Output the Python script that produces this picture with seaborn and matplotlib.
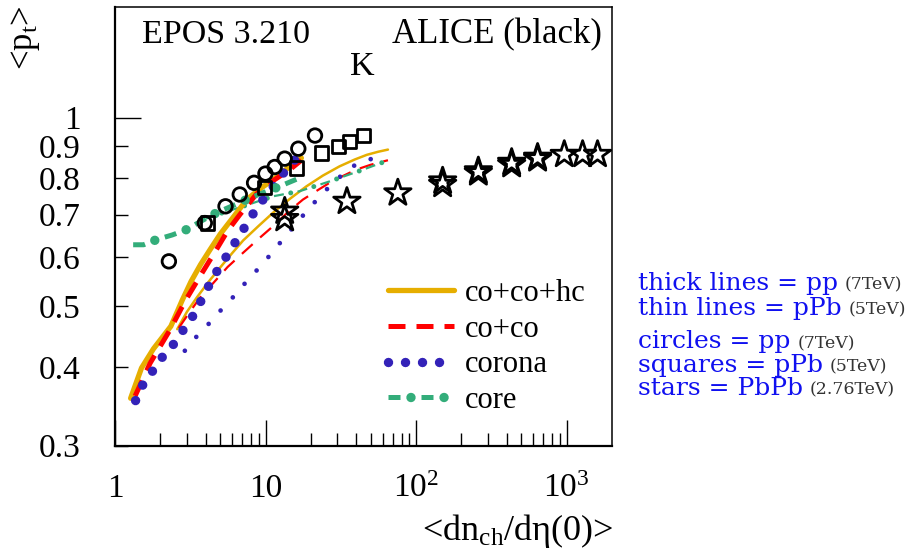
import numpy as np
import pandas as pd
import matplotlib
matplotlib.use("Agg")
import matplotlib.pyplot as plt
import matplotlib.ticker as mticker
import seaborn as sns

# thick lines = pp (7 TeV)
pp_hc_x = [1.27, 1.50, 1.80, 2.35, 2.80, 3.20, 3.70, 4.30, 5.00, 6.00, 7.50, 9.20, 11.2, 14.0, 17.3]
pp_hc_y = [0.357, 0.399, 0.428, 0.465, 0.512, 0.548, 0.583, 0.617, 0.652, 0.690, 0.740, 0.770, 0.796, 0.830, 0.862]
pp_co_x = [1.36, 1.71, 2.32, 2.91, 3.66, 4.60, 5.60, 6.74, 8.70, 11.2, 14.5, 17.3]
pp_co_y = [0.360, 0.406, 0.459, 0.509, 0.558, 0.610, 0.660, 0.700, 0.755, 0.793, 0.826, 0.855]
pp_corona_x = [1.37, 1.53, 1.77, 2.06, 2.41, 2.81, 3.26, 3.66, 4.12, 4.67, 5.36, 6.14, 7.03, 8.05, 9.38, 11.0, 12.7, 15.1, 17.4]
pp_corona_y = [0.354, 0.375, 0.394, 0.415, 0.433, 0.457, 0.481, 0.506, 0.535, 0.565, 0.595, 0.627, 0.660, 0.696, 0.734, 0.771, 0.808, 0.847, 0.886]
pp_core_x = [1.32, 1.55, 1.89, 2.40, 2.99, 3.70, 4.72, 6.00, 7.47, 9.50, 12.1, 16.8]
pp_core_y = [0.627, 0.627, 0.639, 0.650, 0.663, 0.683, 0.705, 0.723, 0.740, 0.758, 0.775, 0.801]

# thin lines = pPb (5 TeV)
ppb_hc_x = [2.59, 3.0, 3.5, 4.2, 5.0, 6.0, 7.1, 9.0, 11.2, 14.5, 18.7, 24.0, 31.0, 39.0, 47.0, 56.0, 65.0]
ppb_hc_y = [0.460, 0.490, 0.517, 0.548, 0.577, 0.608, 0.637, 0.672, 0.705, 0.742, 0.777, 0.808, 0.836, 0.857, 0.872, 0.882, 0.889]
ppb_co_x = [2.65, 3.1, 3.66, 4.5, 5.6, 7.1, 9.0, 11.2, 14.0, 17.7, 22.0, 26.6, 33.0, 40.0, 50.0, 65.0]
ppb_co_y = [0.462, 0.488, 0.516, 0.545, 0.578, 0.609, 0.641, 0.671, 0.706, 0.740, 0.765, 0.787, 0.808, 0.826, 0.841, 0.855]
ppb_corona_x = [2.91, 3.43, 4.09, 4.84, 5.78, 6.84, 8.13, 9.64, 11.3, 13.4, 15.8, 18.7, 22.2, 26.4, 32.0, 39.0, 49.2, 62.6]
ppb_corona_y = [0.425, 0.446, 0.466, 0.488, 0.510, 0.535, 0.560, 0.586, 0.613, 0.645, 0.675, 0.709, 0.742, 0.775, 0.809, 0.839, 0.859, 0.849]
ppb_core_x = [4.0, 5.0, 7.1, 11.2, 16.8, 26.6, 43.2, 63.0]
ppb_core_y = [0.690, 0.703, 0.722, 0.749, 0.763, 0.791, 0.824, 0.852]

# ALICE data
circ_x = [2.28, 3.95, 5.42, 6.74, 8.39, 9.98, 11.5, 13.4, 16.5, 21.3]
circ_y = [0.590, 0.679, 0.722, 0.754, 0.787, 0.814, 0.834, 0.860, 0.892, 0.936]
sq_x = [4.09, 9.83, 16.0, 23.5, 30.6, 36.2, 44.8]
sq_y = [0.679, 0.773, 0.831, 0.878, 0.900, 0.917, 0.937]
star_x = [13.4, 13.4, 34.7, 75.6, 150, 150, 259, 259, 431, 431, 641, 641, 964, 1276, 1603]
star_y = [0.709, 0.690, 0.735, 0.758, 0.782, 0.792, 0.816, 0.822, 0.841, 0.848, 0.859, 0.864, 0.873, 0.873, 0.873]

legend_labels = ["co+co+hc", "co+co", "corona", "core"]
note_main = ["thick lines = pp", "thin lines = pPb", "circles = pp", "squares = pPb", "stars = PbPb"]
note_small = ["(7TeV)", "(5TeV)", "(7TeV)", "(5TeV)", "(2.76TeV)"]

ORANGE = "#E6AE00"
RED = "#FF0000"
BLUE = "#3322B8"
GREEN = "#33AD7A"
DOT = 0.001  # tiny dash -> round dot

sns.set_style("ticks")
plt.rcParams['font.family'] = ['Liberation Serif', 'DejaVu Serif']
plt.rcParams['mathtext.fontset'] = 'custom'
plt.rcParams['mathtext.rm'] = 'Liberation Serif'
plt.rcParams['mathtext.it'] = 'Liberation Serif:italic'
for k in ['text.color', 'axes.labelcolor', 'xtick.color', 'ytick.color']:
    plt.rcParams[k] = 'black'

W, H = 918, 556
fig = plt.figure(figsize=(W / 100, H / 100), dpi=100)
ax = fig.add_axes([115 / W, 1 - 445.7 / H, (612 - 115) / W, (445.7 - 7) / H])


def line(x, y, **kw):
    sns.lineplot(x=x, y=y, ax=ax, sort=False, estimator=None, **kw)
    return ax.lines[-1]


# thin (pPb) first
line(ppb_hc_x, ppb_hc_y, color=ORANGE, lw=1.8)
line(ppb_co_x, ppb_co_y, color=RED, lw=1.6, linestyle=(0, (6.5, 4.5)))
line(ppb_corona_x, ppb_corona_y, color=BLUE, lw=3.4, linestyle=(0, (DOT, 3.8)), dash_capstyle='round')
line(ppb_core_x, ppb_core_y, color=GREEN, lw=1.6, linestyle=(0, (4.5, 6.3)))
line(ppb_core_x, ppb_core_y, color=GREEN, lw=3.6, linestyle=(1.4, (DOT, 4.8)), dash_capstyle='round')

# thick (pp)
h_hc = line(pp_hc_x, pp_hc_y, color=ORANGE, lw=3.8)
h_co = line(pp_co_x, pp_co_y, color=RED, lw=3.6, linestyle=(0, (3.4, 2.2)))
h_cor = line(pp_corona_x, pp_corona_y, color=BLUE, lw=6.8, linestyle=(0, (DOT, 1.8)), dash_capstyle='round')
h_core1 = line(pp_core_x, pp_core_y, color=GREEN, lw=3.6, linestyle=(0, (2.4, 4.2)))
h_core2 = line(pp_core_x, pp_core_y, color=GREEN, lw=6.8, linestyle=(1.12, (DOT, 3.5)), dash_capstyle='round')

# ALICE points
sns.scatterplot(x=circ_x, y=circ_y, ax=ax, marker='o', s=95, facecolors='none',
                edgecolor='black', linewidth=2.0, zorder=5)
sns.scatterplot(x=sq_x, y=sq_y, ax=ax, marker='s', s=90, facecolors='none',
                edgecolor='black', linewidth=2.0, zorder=5)
sns.scatterplot(x=star_x, y=star_y, ax=ax, marker='*', s=400, facecolors='none',
                edgecolor='black', linewidth=2.0, zorder=5)

ax.set_xscale('log')
ax.set_yscale('log')
ax.set_xlim(1, 2000)
ax.set_ylim(0.3, 1.5)

ax.xaxis.set_major_locator(mticker.FixedLocator([1, 10, 100, 1000]))
ax.xaxis.set_major_formatter(mticker.FixedFormatter(['1', '10', r'$10^{2}$', r'$10^{3}$']))
ax.xaxis.set_minor_locator(mticker.FixedLocator([m * d for d in (1, 10, 100) for m in range(2, 10)]))
ax.xaxis.set_minor_formatter(mticker.NullFormatter())
ax.yaxis.set_major_locator(mticker.FixedLocator([1.0]))
ax.yaxis.set_major_formatter(mticker.FixedFormatter(['1']))
ax.yaxis.set_minor_locator(mticker.FixedLocator([0.3, 0.4, 0.5, 0.6, 0.7, 0.8, 0.9]))
ax.yaxis.set_minor_formatter(mticker.FixedFormatter(['0.3', '0.4', '0.5', '0.6', '0.7', '0.8', '0.9']))

ax.tick_params(which='both', direction='in', width=1.0, color='black', labelsize=24)
ax.tick_params(which='major', length=19)
ax.tick_params(which='minor', length=9.5)
ax.tick_params(axis='x', which='both', pad=20)
ax.tick_params(axis='y', which='both', pad=25)

for side in ['left', 'bottom']:
    ax.spines[side].set_linewidth(1.6)
for side in ['top', 'right']:
    ax.spines[side].set_linewidth(1.1)
for s in ax.spines.values():
    s.set_color('black')

ax.legend([h_hc, h_co, h_cor, (h_core1, h_core2)], legend_labels,
          loc='upper left', bbox_to_anchor=(388 / W, 1 - 279 / H), bbox_transform=fig.transFigure,
          frameon=False, fontsize=22, borderpad=0, borderaxespad=0,
          handlelength=2.15, handletextpad=0.35, labelspacing=0.22)

fig.text(141.7 / W, 1 - 43 / H, "EPOS 3.210", fontsize=24.5, va='baseline', ha='left')
fig.text(350 / W, 1 - 75 / H, "K", fontsize=24.5, va='baseline', ha='left')
fig.text(391.7 / W, 1 - 43 / H, "ALICE (black)", fontsize=25, va='baseline', ha='left')

fig.text(26 / W, 1 - 5 / H, r"<p$_{\rm t}$>", fontsize=25, rotation=90, ha='center', va='top')
fig.text(613 / W, 1 - 540 / H, r"<dn$_{\rm ch}$/dη(0)>", fontsize=26, ha='right', va='baseline')

note_base = [290, 315, 348.3, 371.7, 395]
for main, small, yb in zip(note_main, note_small, note_base):
    t = fig.text(638 / W, 1 - yb / H, main, fontsize=18, color='#1010F0',
                 family='DejaVu Serif', va='baseline', ha='left')
    ax.annotate(small, xy=(1, 0), xycoords=t, xytext=(5, 1), textcoords='offset points',
                fontsize=12.5, color='#333333', family='DejaVu Serif', va='bottom', ha='left',
                annotation_clip=False)

fig.savefig("out.png", dpi=100)
